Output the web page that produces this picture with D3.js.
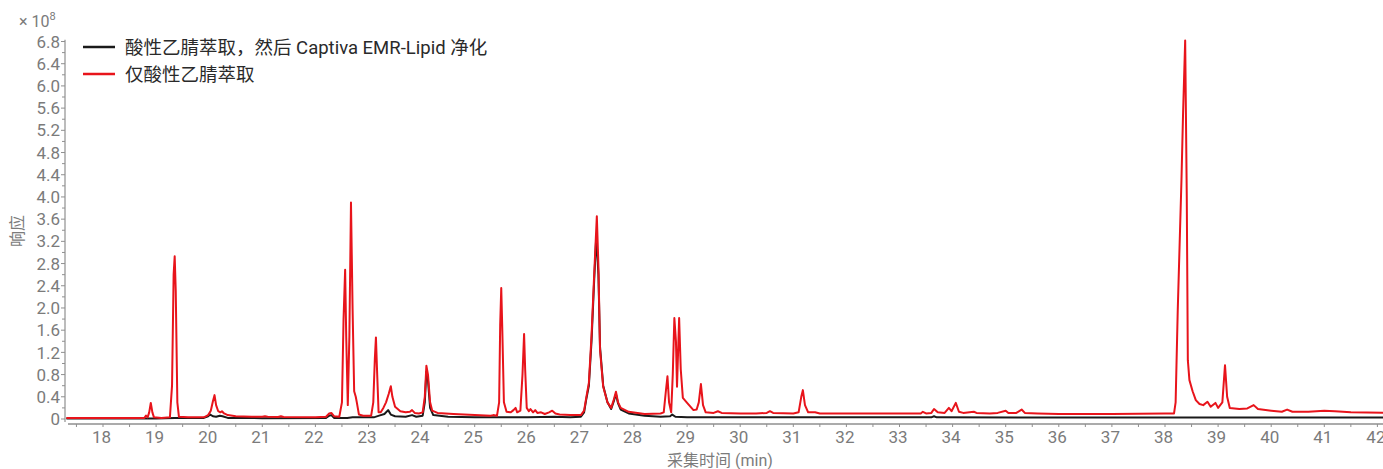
<!DOCTYPE html>
<html><head><meta charset="utf-8">
<script src="https://cdn.jsdelivr.net/npm/d3@7"></script>
<style>
html,body{margin:0;padding:0;background:#fff;}
svg{display:block;font-family:Roboto,"Noto Sans CJK SC",sans-serif;}
</style></head>
<body><svg id="c" width="1383" height="469"></svg>
<script>
// ---- data ----
const seriesNames = ["酸性乙腈萃取，然后 Captiva EMR-Lipid 净化", "仅酸性乙腈萃取"];
const seriesColors = ["#1a1a1a", "#e8141b"];
const xTickValues = d3.range(18, 43, 1);
const yTickValues = [0,0.4,0.8,1.2,1.6,2.0,2.4,2.8,3.2,3.6,4.0,4.4,4.8,5.2,5.6,6.0,6.4,6.8];
const xTitle = "采集时间 (min)";
const yTitle = "响应";
// [time (min), response (×1e8)]
const emrSeries = [
[17.31,0.01],[18.0,0.01],[19.0,0.01],[19.35,0.02],[19.9,0.02],[19.98,0.05],[20.02,0.08],[20.07,0.05],[20.13,0.04],
[20.2,0.06],[20.25,0.05],[20.35,0.02],[21.0,0.015],[22.2,0.02],[22.26,0.06],[22.3,0.07],[22.35,0.02],[22.6,0.02],
[22.7,0.03],[23.1,0.03],[23.2,0.06],[23.3,0.09],[23.37,0.16],[23.42,0.08],[23.5,0.05],[23.7,0.04],[23.82,0.07],
[23.9,0.04],[24.02,0.06],[24.06,0.3],[24.09,0.85],[24.12,0.7],[24.16,0.2],[24.22,0.07],[24.5,0.04],[25.0,0.03],
[25.5,0.03],[26.0,0.03],[26.5,0.04],[26.8,0.03],[27.0,0.04],[27.06,0.12],[27.1,0.35],[27.15,0.6],[27.2,1.4],
[27.25,2.5],[27.29,3.3],[27.33,2.6],[27.36,1.3],[27.42,0.6],[27.5,0.3],[27.57,0.18],[27.62,0.32],[27.66,0.45],
[27.7,0.28],[27.75,0.17],[27.9,0.1],[28.2,0.06],[28.5,0.04],[28.68,0.05],[28.72,0.08],[28.78,0.04],[29.0,0.03],
[30.0,0.03],[33.6,0.03],[33.65,0.05],[33.7,0.03],[38.0,0.025],[42.15,0.025]
];
const acnSeries = [
[17.31,0.02],[17.6,0.02],[18.0,0.02],[18.5,0.02],[18.78,0.02],[18.81,0.06],[18.84,0.03],[18.87,0.12],[18.9,0.29],
[18.93,0.12],[18.96,0.03],[19.1,0.02],[19.26,0.03],[19.3,0.6],[19.33,2.6],[19.35,2.93],[19.37,2.3],[19.4,0.3],
[19.43,0.04],[19.6,0.03],[19.9,0.03],[19.98,0.07],[20.03,0.15],[20.07,0.32],[20.1,0.43],[20.13,0.25],[20.17,0.14],
[20.21,0.12],[20.24,0.14],[20.28,0.1],[20.35,0.07],[20.5,0.05],[20.8,0.04],[21.0,0.04],[21.05,0.05],[21.1,0.04],
[21.3,0.035],[21.35,0.05],[21.4,0.035],[22.0,0.03],[22.2,0.04],[22.26,0.1],[22.3,0.11],[22.35,0.05],[22.45,0.04],
[22.5,0.3],[22.53,1.8],[22.56,2.69],[22.58,1.5],[22.61,0.25],[22.64,1.5],[22.67,3.9],[22.7,2.0],[22.73,0.5],
[22.76,0.4],[22.78,0.3],[22.82,0.08],[22.9,0.06],[23.05,0.06],[23.09,0.3],[23.12,1.1],[23.14,1.47],[23.16,0.9],
[23.19,0.12],[23.23,0.12],[23.28,0.2],[23.33,0.3],[23.38,0.45],[23.42,0.59],[23.45,0.4],[23.5,0.22],[23.6,0.14],
[23.7,0.12],[23.78,0.13],[23.82,0.16],[23.87,0.11],[23.95,0.1],[24.02,0.12],[24.06,0.4],[24.09,0.96],[24.12,0.8],
[24.16,0.3],[24.2,0.15],[24.3,0.11],[24.6,0.09],[25.0,0.07],[25.3,0.06],[25.35,0.07],[25.42,0.06],[25.46,0.3],
[25.48,1.7],[25.5,2.36],[25.52,1.6],[25.55,0.3],[25.6,0.13],[25.68,0.12],[25.73,0.16],[25.77,0.2],[25.8,0.12],
[25.86,0.15],[25.9,0.8],[25.93,1.53],[25.95,0.9],[25.98,0.2],[26.02,0.14],[26.05,0.18],[26.1,0.12],[26.14,0.16],
[26.18,0.11],[26.25,0.12],[26.32,0.09],[26.4,0.12],[26.46,0.15],[26.52,0.1],[26.6,0.08],[26.8,0.07],[27.0,0.07],
[27.06,0.15],[27.1,0.38],[27.15,0.65],[27.2,1.5],[27.25,2.6],[27.3,3.65],[27.33,2.75],[27.36,1.25],[27.42,0.58],
[27.5,0.3],[27.57,0.2],[27.62,0.35],[27.66,0.49],[27.7,0.3],[27.75,0.2],[27.9,0.13],[28.2,0.09],[28.5,0.1],
[28.56,0.12],[28.6,0.5],[28.63,0.77],[28.66,0.3],[28.7,0.12],[28.73,0.8],[28.76,1.82],[28.79,1.4],[28.81,0.58],
[28.83,1.2],[28.85,1.82],[28.88,0.9],[28.92,0.38],[29.0,0.29],[29.12,0.16],[29.18,0.17],[29.22,0.3],[29.26,0.63],
[29.3,0.25],[29.35,0.12],[29.5,0.11],[29.58,0.14],[29.65,0.11],[30.0,0.1],[30.3,0.1],[30.5,0.11],[30.56,0.14],
[30.62,0.11],[31.0,0.1],[31.1,0.12],[31.15,0.4],[31.18,0.52],[31.22,0.25],[31.28,0.12],[31.41,0.12],[31.5,0.1],
[32.0,0.1],[32.5,0.1],[33.0,0.1],[33.4,0.1],[33.44,0.13],[33.5,0.1],[33.6,0.11],[33.65,0.18],[33.72,0.12],
[33.85,0.11],[33.93,0.2],[33.98,0.14],[34.06,0.29],[34.12,0.13],[34.2,0.11],[34.4,0.13],[34.45,0.11],[34.7,0.1],
[34.85,0.11],[35.0,0.15],[35.05,0.11],[35.2,0.11],[35.3,0.17],[35.36,0.11],[35.6,0.1],[36.0,0.09],[37.0,0.09],
[38.0,0.1],[38.17,0.1],[38.2,0.3],[38.24,1.96],[38.31,4.3],[38.34,5.5],[38.38,6.82],[38.41,4.0],[38.43,1.06],
[38.46,0.7],[38.52,0.5],[38.58,0.34],[38.65,0.27],[38.72,0.25],[38.8,0.31],[38.86,0.22],[38.95,0.29],[39.0,0.2],
[39.08,0.3],[39.13,0.97],[39.17,0.4],[39.22,0.2],[39.4,0.18],[39.55,0.19],[39.67,0.25],[39.75,0.18],[40.0,0.15],
[40.2,0.13],[40.3,0.17],[40.4,0.13],[40.7,0.13],[41.0,0.15],[41.2,0.14],[41.5,0.12],[42.15,0.11]
];

// ---- layout ----
const svg = d3.select("#c");
const axisColor = "#8f8f8f", labelColor = "#7b7b7b";
const x = d3.scaleLinear().domain([18, 42]).range([103, 1377.4]);
const y = d3.scaleLinear().domain([0, 6.8]).range([419, 41.5]);
const plotLeft = 65, plotRight = 1383, plotTop = y(6.83), plotBottom = 424;

svg.append("defs").append("clipPath").attr("id","clip")
  .append("rect").attr("x", plotLeft+1).attr("y", 0).attr("width", plotRight-plotLeft).attr("height", plotBottom-1);

// y axis
const yAxis = svg.append("g");
yAxis.append("line").attr("x1",plotLeft).attr("x2",plotLeft).attr("y1",plotTop).attr("y2",plotBottom-2)
  .attr("stroke",axisColor).attr("stroke-width",1.2);
const yMinor = d3.range(0.2, 6.8, 0.4);
yAxis.selectAll(".ymin").data(yMinor).enter().append("line")
  .attr("x1",plotLeft-3).attr("x2",plotLeft).attr("y1",d=>y(d)).attr("y2",d=>y(d))
  .attr("stroke",axisColor).attr("stroke-width",1);
yAxis.selectAll(".ymaj").data(yTickValues).enter().append("line")
  .attr("x1",plotLeft-4).attr("x2",plotLeft).attr("y1",d=>y(d)).attr("y2",d=>y(d))
  .attr("stroke",axisColor).attr("stroke-width",1);
yAxis.selectAll(".ylab").data(yTickValues).enter().append("text")
  .attr("x",plotLeft-5).attr("y",d=>y(d)).attr("dy","0.36em").attr("text-anchor","end")
  .attr("font-size",17).attr("fill",labelColor)
  .text(d=> d===0 ? "0" : d.toFixed(1));

// x axis
const xAxis = svg.append("g");
xAxis.append("line").attr("x1",plotLeft+3).attr("x2",plotRight).attr("y1",plotBottom).attr("y2",plotBottom)
  .attr("stroke",axisColor).attr("stroke-width",1.5);
const xMinor = d3.range(17.5, 42.2, 0.5);
xAxis.selectAll(".xt").data(xMinor).enter().append("line")
  .attr("x1",d=>x(d)).attr("x2",d=>x(d)).attr("y1",plotBottom).attr("y2",plotBottom+3)
  .attr("stroke",axisColor).attr("stroke-width",1);
xAxis.selectAll(".xlab").data(xTickValues).enter().append("text")
  .attr("x",d=>x(d)-1.5).attr("y",plotBottom+19).attr("text-anchor","middle")
  .attr("font-size",17).attr("fill",labelColor).text(d=>d);

// titles
svg.append("text").attr("x",720).attr("y",466).attr("text-anchor","middle")
  .attr("font-size",16).attr("fill",labelColor).text(xTitle);
svg.append("text").attr("transform","translate(23,231) rotate(-90)").attr("text-anchor","middle")
  .attr("font-size",16).attr("fill",labelColor).text(yTitle);
const mult = svg.append("text").attr("x",19).attr("y",27).attr("font-size",16).attr("fill",labelColor);
mult.append("tspan").text("× 10");
mult.append("tspan").attr("font-size",11).attr("dy",-7).text("8");

// lines
const line = d3.line().x(d=>x(d[0])).y(d=>y(d[1]));
const g = svg.append("g").attr("clip-path","url(#clip)");
[emrSeries, acnSeries].forEach((s,i)=>{
  g.append("path").datum(s).attr("d",line).attr("fill","none")
    .attr("stroke",seriesColors[i]).attr("stroke-width",2).attr("stroke-linejoin","round");
});

// legend
const lg = svg.append("g");
seriesNames.forEach((n,i)=>{
  const yy = 47 + i*27;
  lg.append("line").attr("x1",83).attr("x2",115).attr("y1",yy).attr("y2",yy)
    .attr("stroke",seriesColors[i]).attr("stroke-width",2.5);
  lg.append("text").attr("x",125).attr("y",yy).attr("dy","0.36em").attr("font-size",18.5)
    .attr("fill","#2a2a2a").text(n);
});
</script></body></html>
